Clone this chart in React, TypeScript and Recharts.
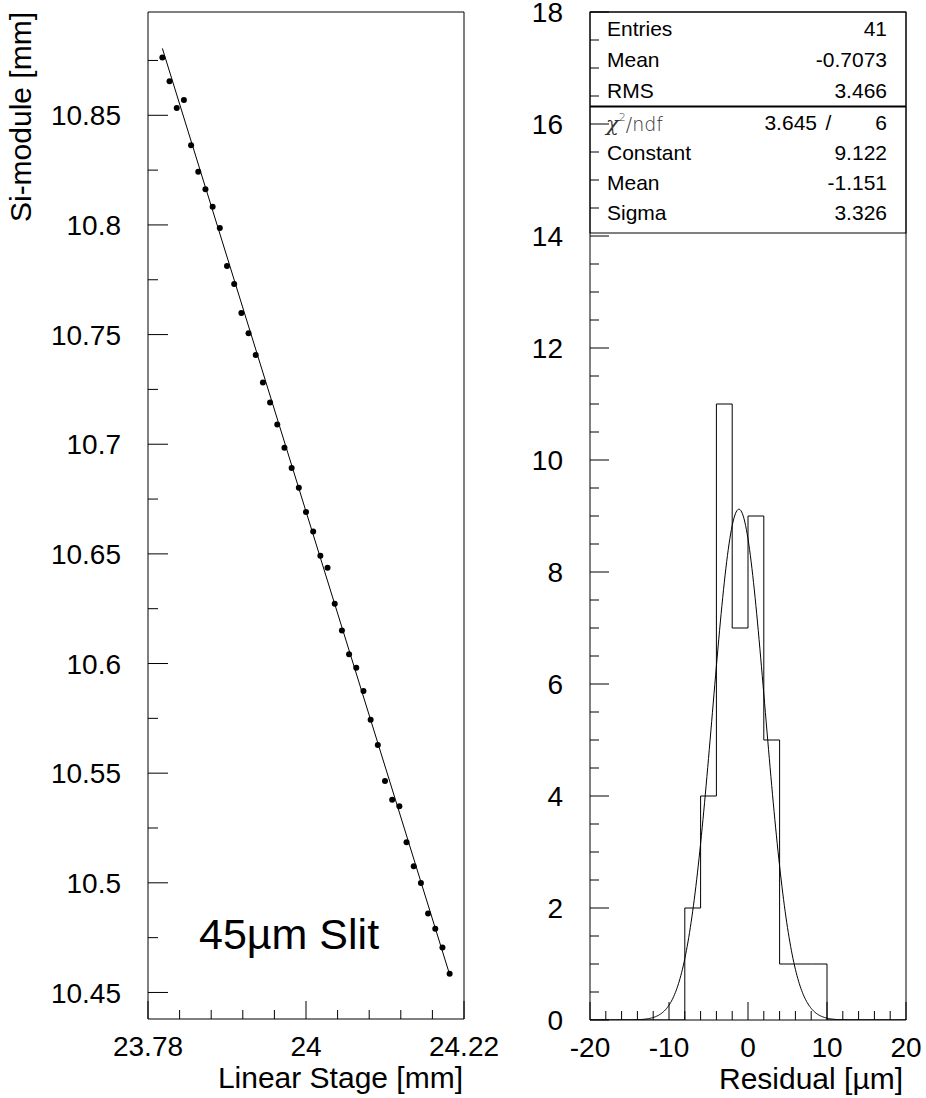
import React from 'react';
import {
  ComposedChart,
  Scatter,
  Line,
  XAxis,
  YAxis,
  ReferenceArea,
  Customized,
} from 'recharts';

const FONT = '"Liberation Sans", Arial, Helvetica, sans-serif';

// ---------- Left panel: linear-stage scan ----------
const stagePos = [
  23.8, 23.81, 23.82, 23.83, 23.84, 23.85, 23.86, 23.87, 23.88, 23.89, 23.9,
  23.91, 23.92, 23.93, 23.94, 23.95, 23.96, 23.97, 23.98, 23.99, 24.0, 24.01,
  24.02, 24.03, 24.04, 24.05, 24.06, 24.07, 24.08, 24.09, 24.1, 24.11, 24.12,
  24.13, 24.14, 24.15, 24.16, 24.17, 24.18, 24.19, 24.2,
];
const siModulePos = [
  10.8764, 10.8655, 10.8533, 10.857, 10.8363, 10.8242, 10.8163, 10.8083,
  10.7986, 10.7813, 10.7731, 10.7598, 10.7506, 10.7407, 10.7281, 10.719,
  10.709, 10.6984, 10.6892, 10.6801, 10.6691, 10.6602, 10.6491, 10.6437,
  10.6273, 10.6151, 10.6042, 10.5981, 10.5875, 10.5744, 10.5629, 10.5464,
  10.5379, 10.5349, 10.5185, 10.5075, 10.4999, 10.486, 10.479, 10.4705,
  10.4585,
];
// straight-line fit, evaluated at the ends of the scan
const fitLineX = [23.8, 24.2];
const fitLineY = [10.8805, 10.4582];

const scanXDomain = [23.78, 24.22];
const scanYDomain = [10.4379, 10.8971];
const scanXMajor = [23.78, 24, 24.22];
const scanXMinor = [23.824, 23.868, 23.912, 23.956, 24.044, 24.088, 24.132, 24.176];
const scanYMajor = [10.45, 10.5, 10.55, 10.6, 10.65, 10.7, 10.75, 10.8, 10.85];
const scanYMinor = [10.475, 10.525, 10.575, 10.625, 10.675, 10.725, 10.775, 10.825, 10.875];

// ---------- Right panel: residual histogram ----------
const binLow = [-20, -18, -16, -14, -12, -10, -8, -6, -4, -2, 0, 2, 4, 6, 8, 10, 12, 14, 16, 18];
const binCounts = [0, 0, 0, 0, 0, 0, 2, 4, 11, 7, 9, 5, 1, 1, 1, 0, 0, 0, 0, 0];
const BIN_WIDTH = 2;

const histMean = '-0.7073';
const histRms = '3.466';
const fitChi2 = '3.645';
const fitNdf = '6';
const fitConstant = 9.122;
const fitMean = -1.151;
const fitSigma = 3.326;

const resXDomain = [-20, 20];
const resYDomain = [0, 18];
const resXMajor = [-20, -10, 0, 10, 20];
const resXMinor = [-18, -16, -14, -12, -8, -6, -4, -2, 2, 4, 6, 8, 12, 14, 16, 18];
const resYMajor = [0, 2, 4, 6, 8, 10, 12, 14, 16, 18];
const resYMinor = [
  0.5, 1, 1.5, 2.5, 3, 3.5, 4.5, 5, 5.5, 6.5, 7, 7.5, 8.5, 9, 9.5, 10.5, 11,
  11.5, 12.5, 13, 13.5, 14.5, 15, 15.5, 16.5, 17, 17.5,
];

// ---------- derived tables ----------
const scanPoints = stagePos.map((x, i) => ({ x, y: siModulePos[i] }));
const fitLine = fitLineX.map((x, i) => ({ x, y: fitLineY[i] }));

const histOutline: { x: number; y: number }[] = [{ x: binLow[0], y: 0 }];
binCounts.forEach((c, i) => {
  histOutline.push({ x: binLow[i], y: c });
  histOutline.push({ x: binLow[i] + BIN_WIDTH, y: c });
});
histOutline.push({ x: binLow[binLow.length - 1] + BIN_WIDTH, y: 0 });

const gaussCurve = Array.from({ length: 401 }, (_, i) => {
  const x = resXDomain[0] + i * 0.1;
  const z = (x - fitMean) / fitSigma;
  return { x, y: fitConstant * Math.exp(-0.5 * z * z) };
});

const sortNum = (a: number[]) => [...a].sort((p, q) => p - q);

const TICK_FONT = 28;

// Inward-pointing ticks, labels only on the major ones
const makeTick =
  (side: 'left' | 'bottom', majors: number[], majorLen: number, minorLen: number) =>
  (props: any) => {
    const { x, y, payload } = props;
    const v = payload.value as number;
    const isMajor = majors.some((m) => Math.abs(m - v) < 1e-9);
    const len = isMajor ? majorLen : minorLen;
    if (side === 'left') {
      return (
        <g>
          <line x1={x} y1={y} x2={x + len} y2={y} stroke="#000" strokeWidth={1} />
          {isMajor && (
            <text x={x - 27} y={y} dy="0.36em" textAnchor="end" fontFamily={FONT} fontSize={TICK_FONT} fill="#000">
              {String(v)}
            </text>
          )}
        </g>
      );
    }
    return (
      <g>
        <line x1={x} y1={y} x2={x} y2={y - len} stroke="#000" strokeWidth={1} />
        {isMajor && (
          <text x={x} y={y + 37} textAnchor="middle" fontFamily={FONT} fontSize={TICK_FONT} fill="#000">
            {String(v)}
          </text>
        )}
      </g>
    );
  };

const ScanAnnotations = () => (
  <g fontFamily={FONT} fill="#000">
    <text x={31} y={12} fontSize={30} textAnchor="end" transform="rotate(-90 31 12)">
      Si-module [mm]
    </text>
    <text x={463} y={1088} fontSize={30} textAnchor="end">
      Linear Stage [mm]
    </text>
    <text x={199} y={949} fontSize={43}>
      45µm Slit
    </text>
  </g>
);

// Statistics / fit-parameter box, in the right panel's own coordinates
const StatsBox = () => {
  const left = 90;
  const right = 406;
  const tx = 107;
  const vx = 387;
  const top = 12;
  const mid = 106.5;
  const bottom = 233;
  const row = (label: string, value: string, y: number) => (
    <g key={label + y}>
      <text x={tx} y={y}>{label}</text>
      <text x={vx} y={y} textAnchor="end">{value}</text>
    </g>
  );
  return (
    <g fontFamily={FONT} fontSize={21} fill="#000">
      <rect x={left} y={top} width={right - left} height={bottom - top} fill="none" stroke="#000" strokeWidth={1} />
      <line x1={left} y1={mid} x2={right} y2={mid} stroke="#000" strokeWidth={2} />
      {row('Entries', String(stagePos.length), 36)}
      {row('Mean', histMean, 67)}
      {row('RMS', histRms, 98)}
      <text x={tx - 1} y={131} fontFamily='"DejaVu Sans", sans-serif' fontSize={19} fill="#333" fontWeight={300}>
        <tspan fontFamily='"DejaVu Serif", serif' fontStyle="italic" fontSize={21}>χ</tspan>
        <tspan dy={-10} fontSize={11}>2</tspan>
        <tspan dy={10}>/ndf</tspan>
      </text>
      <text x={317} y={130} textAnchor="end">{fitChi2}</text>
      <text x={328.5} y={130} textAnchor="middle">/</text>
      <text x={vx} y={130} textAnchor="end">{fitNdf}</text>
      {row('Constant', fitConstant.toFixed(3), 160)}
      {row('Mean', fitMean.toFixed(3), 190)}
      {row('Sigma', fitSigma.toFixed(3), 220)}
    </g>
  );
};

const ResidualAnnotations = () => (
  <g fontFamily={FONT} fill="#000">
    <text x={403} y={1089} fontSize={30} textAnchor="end">
      Residual [µm]
    </text>
  </g>
);

export default function App() {
  return (
    <div style={{ position: 'absolute', left: 0, top: 0, width: 926, height: 1098, background: '#fff' }}>
      <div style={{ position: 'absolute', left: 0, top: 0 }}>
        <ComposedChart width={500} height={1098} margin={{ top: 12, right: 36, bottom: 19, left: 48 }}>
          <XAxis
            type="number"
            dataKey="x"
            domain={scanXDomain}
            allowDataOverflow
            ticks={sortNum([...scanXMajor, ...scanXMinor])}
            interval={0}
            height={60}
            axisLine={false}
            tickLine={false}
            tickSize={0}
            tickMargin={0}
            tick={makeTick('bottom', scanXMajor, 18, 9)}
          />
          <YAxis
            type="number"
            dataKey="y"
            domain={scanYDomain}
            allowDataOverflow
            ticks={sortNum([...scanYMajor, ...scanYMinor])}
            interval={0}
            width={100}
            axisLine={false}
            tickLine={false}
            tickSize={0}
            tickMargin={0}
            tick={makeTick('left', scanYMajor, 20, 10)}
          />
          <ReferenceArea
            x1={scanXDomain[0]}
            x2={scanXDomain[1]}
            y1={scanYDomain[0]}
            y2={scanYDomain[1]}
            fill="none"
            stroke="#000"
            strokeWidth={1}
            fillOpacity={0}
          />
          <Line
            data={fitLine}
            dataKey="y"
            type="linear"
            stroke="#000"
            strokeWidth={1}
            dot={false}
            activeDot={false}
            isAnimationActive={false}
          />
          <Scatter
            data={scanPoints}
            dataKey="y"
            isAnimationActive={false}
            shape={(p: any) => <circle cx={p.cx} cy={p.cy} r={3} fill="#000" />}
          />
          <Customized component={ScanAnnotations} />
        </ComposedChart>
      </div>
      <div style={{ position: 'absolute', left: 500, top: 0 }}>
        <ComposedChart width={426} height={1098} margin={{ top: 12, right: 20, bottom: 18, left: 30 }}>
          <XAxis
            type="number"
            dataKey="x"
            domain={resXDomain}
            allowDataOverflow
            ticks={sortNum([...resXMajor, ...resXMinor])}
            interval={0}
            height={60}
            axisLine={false}
            tickLine={false}
            tickSize={0}
            tickMargin={0}
            tick={makeTick('bottom', resXMajor, 18, 9)}
          />
          <YAxis
            type="number"
            dataKey="y"
            domain={resYDomain}
            allowDataOverflow
            ticks={sortNum([...resYMajor, ...resYMinor])}
            interval={0}
            width={60}
            axisLine={false}
            tickLine={false}
            tickSize={0}
            tickMargin={0}
            tick={makeTick('left', resYMajor, 19, 9)}
          />
          <ReferenceArea
            x1={resXDomain[0]}
            x2={resXDomain[1]}
            y1={resYDomain[0]}
            y2={resYDomain[1]}
            fill="none"
            stroke="#000"
            strokeWidth={1}
            fillOpacity={0}
          />
          <Line
            data={histOutline}
            dataKey="y"
            type="linear"
            stroke="#000"
            strokeWidth={1}
            dot={false}
            activeDot={false}
            isAnimationActive={false}
          />
          <Line
            data={gaussCurve}
            dataKey="y"
            type="linear"
            stroke="#000"
            strokeWidth={1}
            dot={false}
            activeDot={false}
            isAnimationActive={false}
          />
          <Customized component={StatsBox} />
          <Customized component={ResidualAnnotations} />
        </ComposedChart>
      </div>
    </div>
  );
}
